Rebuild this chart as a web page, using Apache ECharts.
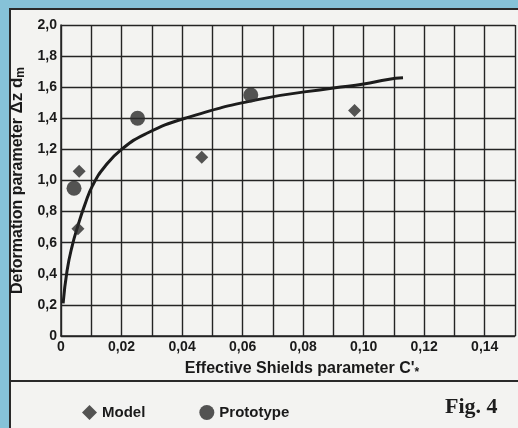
<!DOCTYPE html>
<html><head><meta charset="utf-8">
<script src="https://cdn.jsdelivr.net/npm/echarts@6/dist/echarts.min.js"></script>
<style>html,body{margin:0;padding:0;background:#86c2d8;}#c{width:518px;height:428px;}</style>
</head><body><div id="c"></div>
<script>
// Data
const modelData = [[0.0056, 0.69], [0.006, 1.06], [0.0465, 1.15], [0.097, 1.45]];
const prototypeData = [[0.0043, 0.95], [0.0253, 1.40], [0.0627, 1.55]];
const curveData = [[0.0007, 0.21], [0.002, 0.42], [0.0037, 0.58], [0.0056, 0.71], [0.0078, 0.84], [0.0105, 0.97], [0.0145, 1.09], [0.020, 1.20], [0.028, 1.30], [0.041, 1.40], [0.065, 1.52], [0.090, 1.595], [0.100, 1.62], [0.108, 1.65], [0.113, 1.66]];
const xTickLabels = ['0', '0,02', '0,04', '0,06', '0,08', '0,10', '0,12', '0,14'];
const yTickLabels = ['0', '0,2', '0,4', '0,6', '0,8', '1,0', '1,2', '1,4', '1,6', '1,8', '2,0'];

const chart = echarts.init(document.getElementById('c'));
const ink = '#242424';
const txt = '#1a1a1a';
const font = 'Liberation Sans, Arial, sans-serif';
chart.setOption({
  backgroundColor: '#86c2d8',
  animation: false,
  graphic: [
    { type: 'rect', z: -10, shape: { x: 10, y: 9, width: 520, height: 430 }, style: { fill: '#f3f3f1', stroke: '#2a2a2a', lineWidth: 2 } },
    { type: 'line', z: -9, shape: { x1: 10, y1: 381, x2: 518, y2: 381 }, style: { stroke: '#2a2a2a', lineWidth: 2 } },
    { type: 'text', left: 445, top: 396, style: { text: 'Fig. 4', font: 'bold 22px "Liberation Serif", "Times New Roman", serif', fill: '#1e1e1e' } }
  ],
  grid: { left: 61, right: 2, top: 25, bottom: 92, containLabel: false },
  legend: {
    left: 77, top: 400, itemGap: 54, itemWidth: 15, itemHeight: 15,
    textStyle: { fontFamily: font, fontWeight: 'bold', fontSize: 15, color: txt },
    data: [{ name: 'Model', icon: 'diamond' }, { name: 'Prototype', icon: 'circle' }]
  },
  xAxis: {
    type: 'value', min: 0, max: 0.15, interval: 0.01,
    name: "Effective Shields parameter {b|C'}{s|*}",
    nameLocation: 'middle', nameGap: 22,
    nameTextStyle: { fontFamily: font, fontWeight: 'bold', fontSize: 16, color: txt, padding: [0, 0, 0, 28],
      rich: { b: { fontFamily: font, fontWeight: 'bold', fontSize: 16, color: txt }, s: { fontFamily: font, fontWeight: 'bold', fontSize: 12, color: txt, padding: [9, 0, 0, 0] } } },
    axisLine: { show: true, lineStyle: { color: ink, width: 1.5 } },
    axisTick: { show: false },
    splitLine: { show: true, lineStyle: { color: ink, width: 1.4 } },
    axisLabel: {
      margin: 4, fontFamily: font, fontWeight: 'bold', fontSize: 14, color: txt,
      formatter: function (v) { const i = Math.round(v * 100); return i % 2 ? '' : xTickLabels[i / 2]; }
    }
  },
  yAxis: {
    type: 'value', min: 0, max: 2.0, interval: 0.2,
    name: 'Deformation parameter {d|\u0394z d}{s|m}',
    nameLocation: 'middle', nameGap: 26, nameRotate: 90,
    nameTextStyle: { fontFamily: font, fontWeight: 'bold', fontSize: 16, color: txt,
      rich: { d: { fontFamily: font, fontWeight: 'bold', fontSize: 17, color: txt }, s: { fontFamily: font, fontWeight: 'bold', fontSize: 12, color: txt, padding: [7, 0, 0, 0] } } },
    axisLine: { show: true, lineStyle: { color: ink, width: 1.5 } },
    axisTick: { show: false },
    splitLine: { show: true, lineStyle: { color: ink, width: 1.4 } },
    axisLabel: {
      margin: 4, fontFamily: font, fontWeight: 'bold', fontSize: 14, color: txt,
      formatter: function (v) { return yTickLabels[Math.round(v * 5)]; }
    }
  },
  series: [
    { name: 'Curve', type: 'line', data: curveData, smooth: 0.5, showSymbol: false, lineStyle: { color: '#1c1c1c', width: 3 }, z: 3, silent: true },
    { name: 'Model', type: 'scatter', data: modelData, symbol: 'diamond', symbolSize: 13, itemStyle: { color: '#2a2a2a' }, z: 4 },
    { name: 'Prototype', type: 'scatter', data: prototypeData, symbol: 'circle', symbolSize: 15, itemStyle: { color: '#2a2a2a' }, z: 4 }
  ]
});
</script></body></html>
